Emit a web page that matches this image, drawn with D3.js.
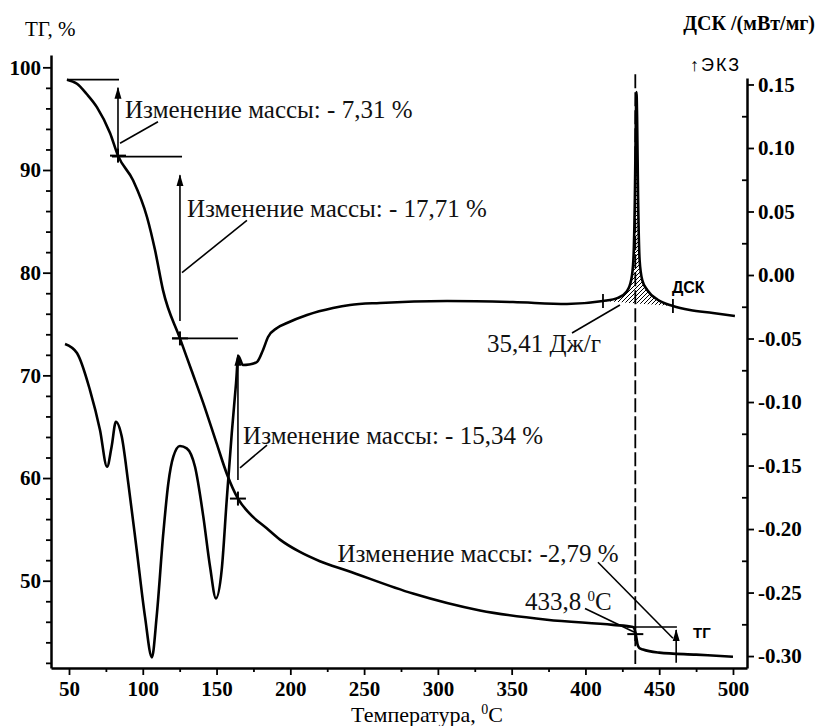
<!DOCTYPE html>
<html lang="ru">
<head>
<meta charset="UTF-8">
<title>ТГ / ДСК</title>
<script src="https://d3js.org/d3.v7.min.js"></script>
<style>
  body { margin: 0; background: #fff; }
  svg { display: block; }
  .serif { font-family: "Liberation Serif", "DejaVu Serif", "Times New Roman", serif; }
  .tick text { font-family: "Liberation Serif", "DejaVu Serif", "Times New Roman", serif; font-weight: bold; font-size: 21px; fill: #000; }
  .ann { font-family: "Liberation Serif", "DejaVu Serif", "Times New Roman", serif; font-size: 25px; fill: #111; }
</style>
</head>
<body>
<script>
// TG curve (temperature, mass %)
const tgT = [48.6, 55.4, 62, 69, 77.8, 83.2, 93.4, 102.9, 108.3, 113.7, 125.2, 133, 141, 150, 157, 164.5, 172, 184, 193, 206.5, 220, 238.2, 283.1, 328.5, 373.9, 418.7, 432.2, 433.8, 434.6, 435.3, 436.5, 439, 450, 475, 500];
const tgV = [98.8, 98.4, 97.4, 96.1, 93.6, 91.4, 89.0, 85.4, 82.2, 78.3, 73.6, 70.5, 67.3, 63.4, 60.4, 58.0, 56.6, 55.1, 54.0, 52.8, 51.9, 51.0, 48.75, 47.1, 46.2, 45.7, 45.5, 45.0, 44.4, 43.8, 43.45, 43.3, 43.0, 42.8, 42.6];

// DSC curve (temperature, mW/mg)
const dscT = [47.3, 55.4, 64.2, 71, 75.8, 78.9, 81.8, 85.7, 90.2, 95.9, 101.5, 106.2, 109.4, 113.9, 117.3, 120.7, 125.2, 129.8, 135.4, 141, 145.6, 149.6, 153.5, 156.9, 160.3, 163.2, 164.7, 167.9, 172, 177.4, 181.5, 184.9, 191, 197.7, 211.3, 228.9, 240.4, 260.8, 306.2, 350.9, 387.5, 411.9, 422, 428, 431, 432.5, 433.5, 434.2, 434.6, 435.0, 435.7, 436.7, 438.5, 442, 449, 459.3, 470.8, 486.4, 501.3];
const dscV = [-0.0543, -0.0614, -0.0906, -0.122, -0.151, -0.135, -0.1155, -0.127, -0.164, -0.2165, -0.269, -0.301, -0.269, -0.2035, -0.164, -0.143, -0.1346, -0.1365, -0.151, -0.19, -0.2297, -0.2546, -0.232, -0.177, -0.1247, -0.0853, -0.0638, -0.0709, -0.0705, -0.0685, -0.059, -0.0488, -0.0417, -0.0378, -0.0315, -0.026, -0.0236, -0.022, -0.0205, -0.0213, -0.0228, -0.0205, -0.018, -0.013, -0.004, 0.012, 0.06, 0.125, 0.144, 0.125, 0.06, 0.012, -0.004, -0.012, -0.0195, -0.0244, -0.0276, -0.0299, -0.0323];

// ticks
const xMajor = [50, 100, 150, 200, 250, 300, 350, 400, 450, 500];
const xMinor = [75, 125, 175, 225, 275, 325, 375, 425, 475];
const tgMajor = [50, 60, 70, 80, 90, 100];
const tgMinor = d3.range(42, 100, 2).filter(v => v % 10 !== 0);
const dscMajor = [-0.30, -0.25, -0.20, -0.15, -0.10, -0.05, 0.00, 0.05, 0.10, 0.15];
const dscMinor = [-0.275, -0.225, -0.175, -0.125, -0.075, -0.025, 0.025, 0.075, 0.125];

// mass-change annotations
const massText = ["Изменение массы: - 7,31 %", "Изменение массы: - 17,71 %", "Изменение массы: - 15,34 %", "Изменение массы: -2,79 %"];
const massTextAt = [[88, 95.1], [130, 85.4], [168, 63.3], [232, 51.8]];
const stepArrows = [[83.2, 91.4, 98.0], [125.2, 75.3, 89.5], [164.5, 59.8, 72.0], [461.5, 42.0, 45.2]];
const stepLevels = [[48.6, 83.9, 98.8], [79.1, 126.6, 91.3], [119.8, 164.5, 73.6], [428, 462, 45.5]];
const stepCross = [[83.2, 91.4], [125.2, 73.6], [164.5, 58.0], [433.8, 44.8]];
const tgLeaders = [[84.6, 92.6, 110.3, 94.7], [126.6, 80.0, 170.6, 85.1], [165.9, 61.0, 184.2, 63.2], [408.5, 51.8, 459.3, 44.4], [399.7, 47.3, 434.3, 44.9]];
const onsetT = 433.8;
const peakLimits = [[411.9, -0.0205], [459.3, -0.0244]];
const dscLeader = [390.9, -0.0457, 423.4, -0.0236];

const width = 821, height = 726;

const x = d3.scaleLinear().domain([37.8, 509.5]).range([51, 747]);
const yTG = d3.scaleLinear().domain([41.5, 101.2]).range([668, 55]);
const yDSC = d3.scaleLinear().domain([-0.3094, 0.1551]).range([668, 78]);

const svg = d3.select("body").append("svg")
    .attr("width", width)
    .attr("height", height);

const defs = svg.append("defs");
defs.append("marker")
    .attr("id", "arr")
    .attr("viewBox", "0 0 12 12")
    .attr("refX", 11).attr("refY", 6)
    .attr("markerWidth", 12).attr("markerHeight", 12)
    .attr("markerUnits", "userSpaceOnUse")
    .attr("orient", "auto")
  .append("path")
    .attr("d", "M0,2.5 L12,6 L0,9.5 Z")
    .attr("fill", "#000");

defs.append("pattern")
    .attr("id", "hatch")
    .attr("patternUnits", "userSpaceOnUse")
    .attr("width", 4).attr("height", 4)
  .append("path")
    .attr("d", "M-1,1 l2,-2 M0,4 l4,-4 M3,5 l2,-2")
    .attr("stroke", "#000")
    .attr("stroke-width", 1);

// axes
const axisStyle = g => {
    g.attr("font-family", null).attr("font-size", null);
    g.select(".domain").attr("stroke", "#000").attr("stroke-width", 2.5);
    g.selectAll(".tick line").attr("stroke", "#000").attr("stroke-width", 1.8);
};

svg.append("g")
    .attr("transform", "translate(0,668)")
    .call(d3.axisBottom(x).tickValues(xMajor).tickSize(7).tickPadding(6).tickSizeOuter(0))
    .call(axisStyle);
svg.append("g")
    .attr("transform", "translate(0,668)")
    .call(d3.axisBottom(x).tickValues(xMinor).tickSize(4).tickFormat(""))
    .call(g => g.select(".domain").remove())
    .call(axisStyle);

svg.append("g")
    .attr("transform", "translate(51,0)")
    .call(d3.axisLeft(yTG).tickValues(tgMajor).tickSize(8).tickPadding(2).tickSizeOuter(0))
    .call(axisStyle);
svg.append("g")
    .attr("transform", "translate(51,0)")
    .call(d3.axisLeft(yTG).tickValues(tgMinor).tickSize(5).tickFormat(""))
    .call(g => g.select(".domain").remove())
    .call(axisStyle);

svg.append("g")
    .attr("transform", "translate(747,0)")
    .call(d3.axisRight(yDSC).tickValues(dscMajor).tickSize(7).tickPadding(4).tickSizeOuter(0)
        .tickFormat(d => d.toFixed(2)))
    .call(axisStyle);
svg.append("g")
    .attr("transform", "translate(747,0)")
    .call(d3.axisLeft(yDSC).tickValues(dscMinor).tickSize(5).tickFormat(""))
    .call(g => g.select(".domain").remove())
    .call(axisStyle);

// axis titles
svg.append("text")
    .attr("class", "serif")
    .attr("x", 25).attr("y", 36)
    .style("font-size", "21px")
    .text("ТГ, %");
svg.append("text")
    .attr("class", "serif")
    .attr("x", 815).attr("y", 30).attr("text-anchor", "end")
    .style("font-size", "20px").style("font-weight", "bold")
    .text("ДСК /(мВт/мг)");
svg.append("text")
    .attr("x", 690).attr("y", 71)
    .style("font-family", "Liberation Sans, Arial, sans-serif").style("font-size", "18px")
    .style("letter-spacing", "2px")
    .text("↑ЭКЗ");
const xt = svg.append("text")
    .attr("class", "serif")
    .attr("x", 427).attr("y", 722).attr("text-anchor", "middle")
    .style("font-size", "22px");
xt.append("tspan").text("Температура, ");
xt.append("tspan").attr("dy", -8).style("font-size", "14px").text("0");
xt.append("tspan").attr("dy", 8).text("C");

// hatched peak area
const peakIdx = dscT.map((t, i) => i).filter(i => dscT[i] >= peakLimits[0][0] && dscT[i] <= peakLimits[1][0]);
const baseAt = t => peakLimits[0][1] + (peakLimits[1][1] - peakLimits[0][1]) * (t - peakLimits[0][0]) / (peakLimits[1][0] - peakLimits[0][0]);
svg.append("path")
    .datum(peakIdx)
    .attr("fill", "url(#hatch)")
    .attr("d", d3.area()
        .curve(d3.curveMonotoneX)
        .x(i => x(dscT[i]))
        .y0(i => yDSC(baseAt(dscT[i])))
        .y1(i => yDSC(dscV[i])));

// onset dashed line
svg.append("line")
    .attr("x1", x(onsetT)).attr("x2", x(onsetT))
    .attr("y1", yDSC(0.158)).attr("y2", yTG(41.9))
    .attr("stroke", "#000").attr("stroke-width", 1.8)
    .attr("stroke-dasharray", "14,4");

// curves
svg.append("path")
    .datum(d3.range(tgT.length))
    .attr("fill", "none").attr("stroke", "#000").attr("stroke-width", 2.6)
    .attr("d", d3.line().curve(d3.curveMonotoneX).x(i => x(tgT[i])).y(i => yTG(tgV[i])));

svg.append("path")
    .datum(d3.range(dscT.length))
    .attr("fill", "none").attr("stroke", "#000").attr("stroke-width", 2.6)
    .attr("stroke-linejoin", "round")
    .attr("d", d3.line().curve(d3.curveMonotoneX).x(i => x(dscT[i])).y(i => yDSC(dscV[i])));

// TG step annotations
const ann = svg.append("g").attr("stroke", "#000").attr("stroke-width", 1.6);

stepLevels.forEach(d => {
    ann.append("line")
        .attr("x1", x(d[0])).attr("x2", x(d[1]))
        .attr("y1", yTG(d[2])).attr("y2", yTG(d[2]));
});
stepArrows.forEach(d => {
    ann.append("line")
        .attr("x1", x(d[0])).attr("x2", x(d[0]))
        .attr("y1", yTG(d[1])).attr("y2", yTG(d[2]))
        .attr("marker-end", "url(#arr)");
});
stepCross.forEach(d => {
    const cx = x(d[0]), cy = yTG(d[1]);
    ann.append("line").attr("x1", cx - 8).attr("x2", cx + 8).attr("y1", cy).attr("y2", cy).attr("stroke-width", 2);
    ann.append("line").attr("x1", cx).attr("x2", cx).attr("y1", cy - 7).attr("y2", cy + 7).attr("stroke-width", 2);
});
tgLeaders.forEach(d => {
    ann.append("line")
        .attr("x1", x(d[0])).attr("y1", yTG(d[1]))
        .attr("x2", x(d[2])).attr("y2", yTG(d[3]));
});

// DSC peak limits and leader
peakLimits.forEach(d => {
    ann.append("line")
        .attr("x1", x(d[0])).attr("x2", x(d[0]))
        .attr("y1", yDSC(d[1]) - 7).attr("y2", yDSC(d[1]) + 7)
        .attr("stroke-width", 1.8);
});
ann.append("line")
    .attr("x1", x(dscLeader[0])).attr("y1", yDSC(dscLeader[1]))
    .attr("x2", x(dscLeader[2])).attr("y2", yDSC(dscLeader[3]));

// texts
massText.forEach((t, i) => {
    svg.append("text")
        .attr("class", "ann")
        .attr("x", x(massTextAt[i][0])).attr("y", yTG(massTextAt[i][1]))
        .text(t);
});

const onsetLbl = svg.append("text")
    .attr("class", "ann")
    .attr("x", x(359)).attr("y", yTG(47.1));
onsetLbl.append("tspan").text("433,8 ");
onsetLbl.append("tspan").attr("dy", -9).style("font-size", "15px").text("0");
onsetLbl.append("tspan").attr("dy", 9).text("C");

svg.append("text")
    .attr("class", "ann")
    .attr("x", x(333.3)).attr("y", yDSC(-0.0606))
    .text("35,41 Дж/г");

svg.append("text")
    .attr("x", x(458.6)).attr("y", yDSC(-0.0142))
    .style("font-family", "Liberation Sans, Arial, sans-serif").style("font-size", "16px").style("font-weight", "bold")
    .text("ДСК");

svg.append("text")
    .attr("x", x(472.9)).attr("y", yTG(44.4))
    .style("font-family", "Liberation Sans, Arial, sans-serif").style("font-size", "15px").style("font-weight", "bold")
    .text("ТГ");
</script>
</body>
</html>
